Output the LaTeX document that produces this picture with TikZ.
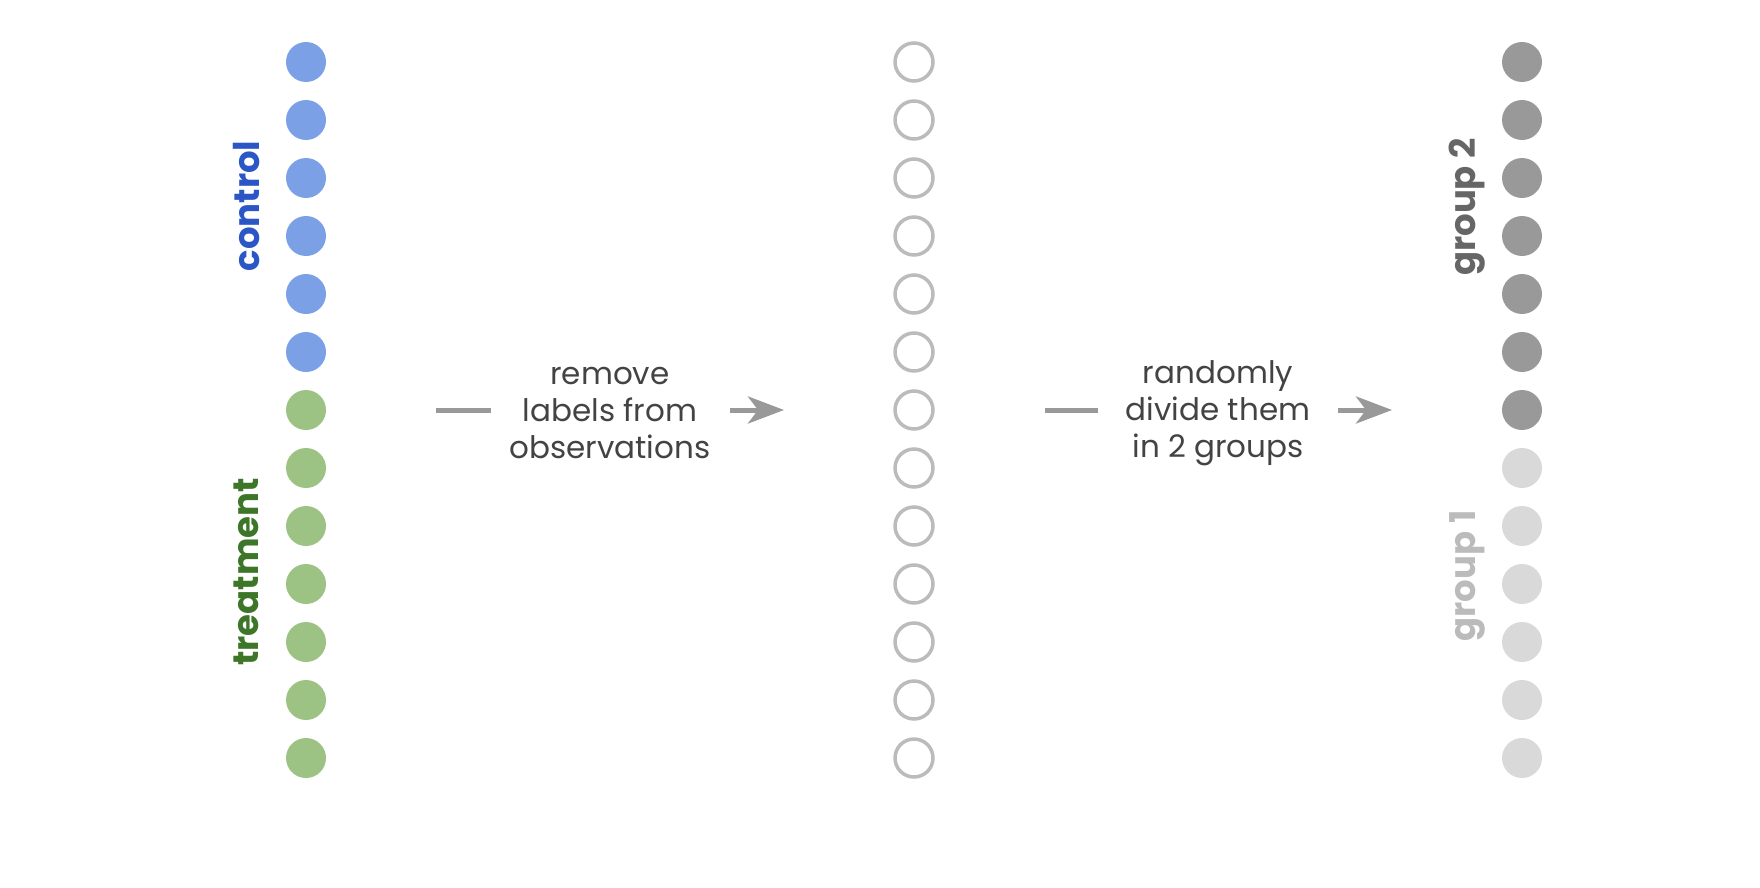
\documentclass[tikz,border=0pt]{standalone}
\usepackage{fontspec}
\setmainfont{Poppins}
\usetikzlibrary{arrows.meta}
\definecolor{ctrlfill}{HTML}{7BA0E6}
\definecolor{ctrltext}{HTML}{2A56C6}
\definecolor{trtfill}{HTML}{9DC384}
\definecolor{trttext}{HTML}{3D7628}
\definecolor{darkg}{HTML}{999999}
\definecolor{lightg}{HTML}{D9D9D9}
\definecolor{hollow}{HTML}{BBBBBB}
\definecolor{g2text}{HTML}{666666}
\definecolor{g1text}{HTML}{BBBBBB}
\definecolor{midtext}{HTML}{434343}
\tikzset{
  dot/.style={circle, minimum size=40pt, inner sep=0pt, draw=none},
  hdot/.style={circle, minimum size=38pt, inner sep=0pt, draw=hollow, line width=3.5pt},
  sidelabel/.style={rotate=90, anchor=base, font=\fontsize{35.5}{40}\selectfont\bfseries},
  midlabel/.style={align=center, text=midtext, font=\fontsize{31}{37}\selectfont},
  conn/.style={draw=darkg, line width=5pt},
  arr/.style={draw=darkg, line width=5pt, -{Stealth[length=36pt, width=27pt, inset=10pt]}}
}
\begin{document}
\begin{tikzpicture}[x=1pt, y=-1pt]
\useasboundingbox (0,0) rectangle (1760,888);
\foreach \i in {0,...,5} {
  \node[dot, fill=ctrlfill] (c\i) at (306, 62+58*\i) {};
}
\foreach \i in {6,...,12} {
  \node[dot, fill=trtfill] (c\i) at (306, 62+58*\i) {};
}
\foreach \i in {0,...,12} {
  \node[hdot] (h\i) at (914, 62+58*\i) {};
}
\foreach \i in {0,...,6} {
  \node[dot, fill=darkg] (g\i) at (1522, 62+58*\i) {};
}
\foreach \i in {7,...,12} {
  \node[dot, fill=lightg] (g\i) at (1522, 62+58*\i) {};
}
\node[sidelabel, text=ctrltext] (lc) at (259, 206) {control};
\node[sidelabel, text=trttext] (lt) at (258, 572) {treatment};
\node[sidelabel, text=g2text] (lg2) at (1475, 207) {group 2};
\node[sidelabel, text=g1text] (lg1) at (1475, 576) {group 1};
\node[midlabel] (t1) at (610, 413) {remove\\labels from\\observations};
\node[midlabel] (t2) at (1218, 413) {randomly\\divide them\\in 2 groups};
\coordinate (a1s) at (436, 410);
\coordinate (a1e) at (491, 410);
\coordinate (b1s) at (730, 410);
\coordinate (b1e) at (784, 410);
\coordinate (a2s) at (1045, 410);
\coordinate (a2e) at (1098, 410);
\coordinate (b2s) at (1338, 410);
\coordinate (b2e) at (1392, 410);
\draw[conn] (a1s) -- (a1e);
\draw[arr] (b1s) -- (b1e);
\draw[conn] (a2s) -- (a2e);
\draw[arr] (b2s) -- (b2e);
\end{tikzpicture}
\end{document}
